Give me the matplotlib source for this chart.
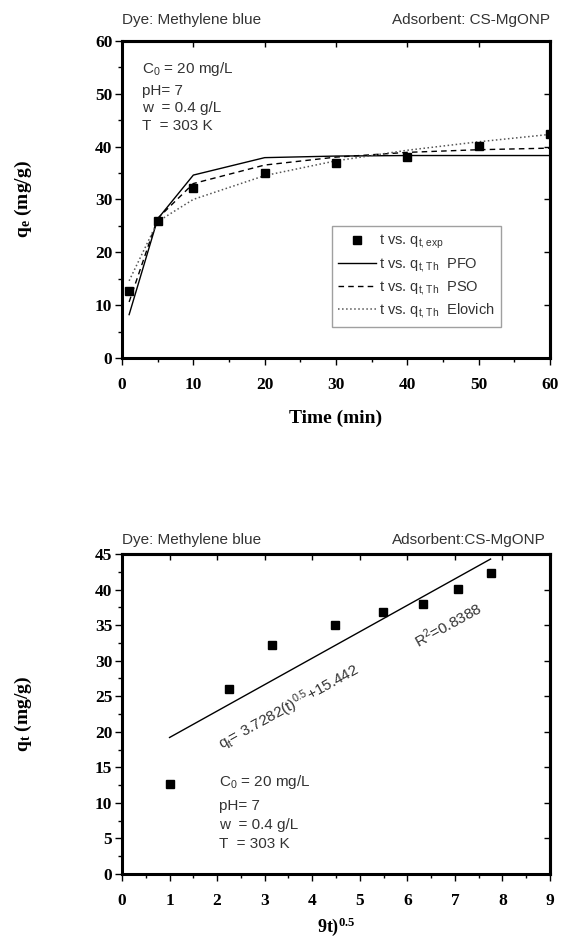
import numpy as np
import matplotlib
matplotlib.use("Agg")
import matplotlib.pyplot as plt
from matplotlib.ticker import MultipleLocator

plt.rcParams['mathtext.default'] = 'regular'

# kinetics data
t_min = [1, 5, 10, 20, 30, 40, 50, 60]
q_exp = [12.6, 26.0, 32.2, 35.0, 36.8, 38.0, 40.1, 42.4]
q_pfo = [8.2, 26.3, 34.6, 37.9, 38.2, 38.3, 38.3, 38.3]
q_pso = [10.6, 26.4, 33.0, 36.5, 38.0, 38.9, 39.4, 39.7]
q_elo = [14.6, 25.8, 30.0, 34.5, 37.3, 39.3, 40.9, 42.3]

# intraparticle diffusion plot
sqrt_t = [1.0, 2.24, 3.16, 4.47, 5.48, 6.32, 7.07, 7.75]
fit_x = [1.0, 7.75]
fit_y = [19.2, 44.3]

SERIF = ['Liberation Serif', 'DejaVu Serif']
SANS = ['Liberation Sans', 'DejaVu Sans']
TXT = '#333333'
FS = 11

fig = plt.figure(figsize=(5.64, 9.41), dpi=100)
ax1 = fig.add_axes([0.2163, 0.6196, 0.7589, 0.337])
ax2 = fig.add_axes([0.2163, 0.0712, 0.7589, 0.340])


def style_axes(ax, xmaj, xmin, ymaj, ymin):
    for s in ax.spines.values():
        s.set_linewidth(2.2)
    ax.xaxis.set_major_locator(MultipleLocator(xmaj))
    ax.xaxis.set_minor_locator(MultipleLocator(xmin))
    ax.yaxis.set_major_locator(MultipleLocator(ymaj))
    ax.yaxis.set_minor_locator(MultipleLocator(ymin))
    ax.tick_params(which='both', direction='out', top=False, right=False, width=1)
    ax.tick_params(which='major', length=5)
    ax.tick_params(which='minor', length=3)
    ax.tick_params(axis='x', pad=9)
    ax.tick_params(axis='y', pad=2)
    sec_x = ax.secondary_xaxis('top')
    sec_y = ax.secondary_yaxis('right')
    sec_x.xaxis.set_major_locator(MultipleLocator(xmaj))
    sec_x.tick_params(direction='in', length=4, width=1, labeltop=False)
    sec_y.yaxis.set_major_locator(MultipleLocator(ymaj))
    sec_y.tick_params(direction='in', length=4, width=1, labelright=False)
    sec_x.spines['top'].set_linewidth(2.2)
    sec_y.spines['right'].set_linewidth(2.2)
    for lab in ax.get_xticklabels() + ax.get_yticklabels():
        lab.set_family(SERIF)
        lab.set_fontweight('bold')
        lab.set_fontsize(12.5)


# --- top panel: kinetic models ---
ax1.plot(t_min, q_exp, 's', color='black', ms=5.5, label='t vs. q$_{t,exp}$', zorder=5)
ax1.plot(t_min, q_pfo, '-', color='black', lw=1.0, label='t vs. q$_{t,Th}$  PFO')
ax1.plot(t_min, q_pso, '--', color='black', lw=1.0, dashes=(4, 3), label='t vs. q$_{t,Th}$  PSO')
ax1.plot(t_min, q_elo, ':', color='#555555', lw=1.1, label='t vs. q$_{t,Th}$  Elovich')
ax1.set_xlim(0, 60)
ax1.set_ylim(0, 60)
style_axes(ax1, 10, 5, 10, 5)
ax1.set_xlabel('Time (min)', family=SERIF, fontweight='bold', fontsize=14, labelpad=12)
ax1.set_ylabel('q$_e$ (mg/g)', family=SERIF, fontweight='bold', fontsize=14, labelpad=44)
leg = ax1.legend(loc='lower left', bbox_to_anchor=(0.49, 0.098), borderaxespad=0,
                 prop={'family': SANS, 'size': 10.5},
                 frameon=True, fancybox=False, edgecolor='#888888', handlelength=2.6,
                 handletextpad=0.2, borderpad=0.45, labelspacing=0.32)
leg.get_frame().set_linewidth(1.0)
for txt in leg.get_texts():
    txt.set_color(TXT)

cond = ['C$_0$ = 20 mg/L', 'pH= 7', 'w  = 0.4 g/L', 'T  = 303 K']
cond_y = [0.911, 0.842, 0.789, 0.732]
for s, yy in zip(cond, cond_y):
    ax1.text(0.047, yy, s, transform=ax1.transAxes, family=SANS, fontsize=FS, color=TXT, va='center')
fig.text(0.216, 0.979, 'Dye: Methylene blue', family=SANS, fontsize=FS, color=TXT, va='center')
fig.text(0.975, 0.979, 'Adsorbent: CS-MgONP', family=SANS, fontsize=FS, color=TXT, va='center', ha='right')

# --- bottom panel: intraparticle diffusion ---
ax2.plot(sqrt_t, q_exp, 's', color='black', ms=5.5, zorder=5)
ax2.plot(fit_x, fit_y, '-', color='black', lw=1.0)
ax2.set_xlim(0, 9)
ax2.set_ylim(0, 45)
style_axes(ax2, 1, 0.5, 5, 2.5)
ax2.set_xlabel('9t)$^{0.5}$', family=SERIF, fontweight='bold', fontsize=13, labelpad=4)
ax2.set_ylabel('q$_t$ (mg/g)', family=SERIF, fontweight='bold', fontsize=14, labelpad=44)
ax2.text(3.5, 23.4, 'q$_t$= 3.7282(t)$^{0.5}$+15.442', rotation=29, family=SANS, fontsize=FS,
         color=TXT, ha='center', va='center', rotation_mode='anchor')
ax2.text(6.85, 35.0, 'R$^2$=0.8388', rotation=29, family=SANS, fontsize=FS,
         color=TXT, ha='center', va='center', rotation_mode='anchor')
cond2_y = [12.9, 9.6, 6.9, 4.2]
for s, yy in zip(cond, cond2_y):
    ax2.text(2.05, yy, s, family=SANS, fontsize=FS, color=TXT, va='center')
fig.text(0.216, 0.426, 'Dye: Methylene blue', family=SANS, fontsize=FS, color=TXT, va='center')
fig.text(0.968, 0.426, 'Adsorbent:CS-MgONP', family=SANS, fontsize=FS, color=TXT, va='center', ha='right')

fig.savefig('out.png', dpi=100)
